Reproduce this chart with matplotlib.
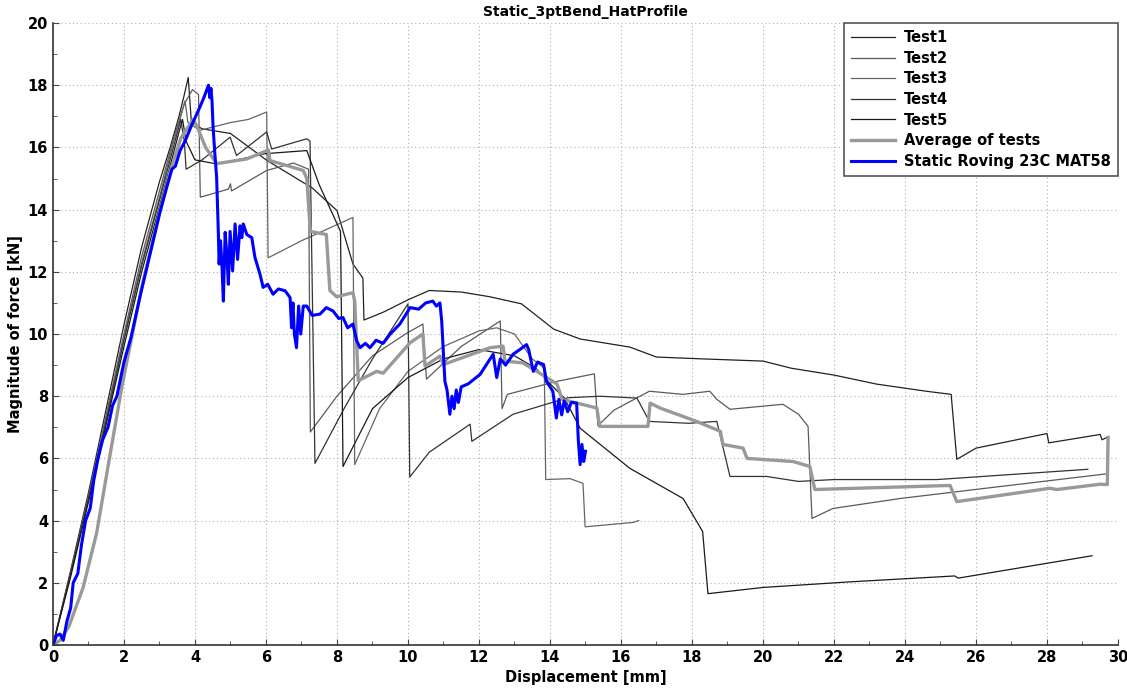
import numpy as np
import matplotlib
matplotlib.use('Agg')
import matplotlib.pyplot as plt
from matplotlib.ticker import MultipleLocator

# ---- data ----
test1_x = [0, 0.5, 1.0, 1.5, 2.0, 2.5, 3.0, 3.3, 3.55, 3.7, 3.81, 3.9, 4.2, 5.0, 6.03, 7.3, 8.0,
           8.45, 8.73, 8.76, 9.3, 10.0, 10.6, 11.5, 12.3, 13.2, 14.1, 14.85, 16.25, 17.0, 18.3,
           20.0, 20.8, 22.0, 23.2, 24.6, 25.3, 25.46, 26.0, 28.0, 28.05, 29.5, 29.55, 29.7]
test1_y = [0, 2.4, 4.9, 7.6, 10.3, 12.8, 14.9, 16.0, 17.0, 17.7, 18.25, 16.8, 16.6, 16.45, 15.58,
           14.7, 13.97, 12.25, 11.8, 10.45, 10.7, 11.1, 11.4, 11.35, 11.2, 10.97, 10.16, 9.84,
           9.58, 9.26, 9.2, 9.13, 8.9, 8.68, 8.39, 8.16, 8.06, 5.97, 6.33, 6.8, 6.5, 6.77, 6.6, 6.68]

test2_x = [0, 0.5, 1.0, 1.5, 2.0, 2.5, 3.0, 3.4, 3.7, 3.93, 4.1, 4.15, 4.94, 5.0, 5.03, 6.02,
           6.77, 7.2, 7.25, 8.0, 9.0, 9.97, 10.42, 10.52, 11.5, 12.6, 12.65, 12.8, 14.2, 15.25,
           15.35, 15.8, 16.8, 17.75, 18.5, 18.7, 19.07, 20.56, 21.0, 21.27, 21.38, 21.97, 23.86,
           26.2, 29.65]
test2_y = [0, 2.35, 4.8, 7.4, 10.0, 12.5, 14.6, 16.3, 17.4, 17.86, 17.7, 14.4, 14.66, 14.83,
           14.6, 15.26, 15.5, 15.3, 6.85, 8.0, 9.3, 10.03, 10.32, 8.55, 9.6, 10.42, 7.6, 8.06,
           8.48, 8.72, 7.05, 7.55, 8.16, 8.06, 8.16, 7.9, 7.58, 7.74, 7.42, 7.03, 4.07, 4.39,
           4.71, 5.03, 5.5]

test3_x = [0, 0.5, 1.0, 1.5, 2.0, 2.5, 3.0, 3.4, 3.6, 3.72, 3.8, 4.14, 5.0, 5.5, 6.02, 6.06,
           7.0, 8.45, 8.5, 9.2, 10.0, 11.0, 12.0, 12.5, 13.0, 13.5, 13.84, 13.88, 14.56, 14.93,
           14.99, 16.34, 16.5]
test3_y = [0, 2.3, 4.75, 7.3, 9.9, 12.3, 14.4, 16.2, 17.0, 17.5, 16.8, 16.55, 16.8, 16.9,
           17.14, 12.45, 13.0, 13.75, 5.8, 7.6, 8.8, 9.6, 10.1, 10.2, 10.0, 9.2, 8.9, 5.32,
           5.35, 5.2, 3.8, 3.94, 4.0]

test4_x = [0, 0.5, 1.0, 1.5, 2.0, 2.5, 3.0, 3.3, 3.6, 3.7, 3.75, 4.2, 4.99, 5.17, 6.02, 6.16,
           7.15, 7.24, 7.38, 8.2, 9.0, 10.0, 10.05, 10.6, 11.75, 11.8, 12.96, 14.5, 15.4,
           16.45, 16.8, 17.9, 18.7, 19.07, 20.1, 21.0, 22.0, 24.9, 29.15]
test4_y = [0, 2.3, 4.7, 7.2, 9.8, 12.2, 14.3, 15.6, 16.9, 16.2, 15.3, 15.6, 16.33, 15.74,
           16.5, 15.95, 16.28, 16.2, 5.84, 7.6, 9.2, 10.97, 5.4, 6.2, 7.1, 6.55, 7.42, 7.95,
           8.0, 7.94, 7.19, 7.13, 7.19, 5.42, 5.42, 5.26, 5.32, 5.32, 5.65]

test5_x = [0, 0.5, 1.0, 1.5, 2.0, 2.5, 3.0, 3.3, 3.55, 3.65, 3.75, 4.0, 4.61, 5.55, 5.97,
           7.15, 7.5, 8.1, 8.17, 9.0, 10.0, 11.0, 12.0, 13.0, 13.6, 14.0, 14.4, 14.85, 16.25,
           17.75, 18.3, 18.45, 20.0, 22.45, 25.4, 25.5, 29.27]
test5_y = [0, 2.2, 4.6, 7.1, 9.6, 12.0, 14.1, 15.4, 16.5, 16.9, 16.2, 15.6, 15.47, 15.69,
           15.8, 15.9, 14.8, 13.3, 5.74, 7.6, 8.6, 9.2, 9.5, 9.3, 8.9, 8.4, 7.95, 6.97, 5.68,
           4.71, 3.65, 1.65, 1.85, 2.03, 2.22, 2.15, 2.87]

avg_x = [0, 0.2, 0.45, 0.85, 1.23, 1.56, 1.94, 2.5, 3.0, 3.3, 3.6, 3.95, 4.05, 4.3, 4.61,
         5.46, 6.07, 6.11, 7.05, 7.15, 7.25, 7.7, 7.8, 7.99, 8.45, 8.5, 8.6, 9.12, 9.3, 10.06,
         10.42, 10.48, 10.9, 11.0, 12.31, 12.68, 12.73, 13.24, 13.63, 14.2, 14.34, 15.32,
         15.4, 16.76, 16.82, 17.1, 18.13, 18.8, 18.87, 19.44, 19.55, 20.85, 21.32, 21.46,
         25.27, 25.46, 28.08, 28.28, 29.5, 29.7, 29.72]
avg_y = [0, 0.15, 0.6, 1.85, 3.6, 5.8, 8.3, 11.5, 13.9, 15.2, 16.3, 16.9, 16.7, 16.0, 15.48,
         15.63, 15.92, 15.58, 15.26, 15.0, 13.3, 13.2, 11.4, 11.2, 11.33, 11.06, 8.5, 8.8,
         8.74, 9.72, 10.0, 8.97, 9.29, 9.02, 9.56, 9.61, 9.13, 9.07, 8.8, 8.39, 7.9, 7.62,
         7.03, 7.03, 7.78, 7.62, 7.19, 6.87, 6.45, 6.33, 6.0, 5.9, 5.74, 5.0, 5.13, 4.61,
         5.04, 5.0, 5.17, 5.16, 6.68]

sim_x = [0, 0.1, 0.2, 0.29, 0.39, 0.5, 0.57, 0.7, 0.8, 0.92, 1.05, 1.15, 1.27, 1.4, 1.55,
         1.68, 1.8, 2.0, 2.2, 2.45, 2.7, 3.01, 3.2, 3.35, 3.45, 3.58, 3.72, 3.9, 4.1, 4.25,
         4.38, 4.42, 4.45, 4.48, 4.51, 4.56, 4.61, 4.66, 4.68, 4.72, 4.76, 4.8, 4.85, 4.9,
         4.94, 4.99, 5.06, 5.13, 5.2, 5.27, 5.32, 5.36, 5.46, 5.6, 5.69, 5.83, 5.92, 6.05,
         6.2, 6.35, 6.54, 6.68, 6.72, 6.76, 6.8, 6.86, 6.92, 6.98, 7.05, 7.15, 7.3, 7.52,
         7.7, 7.89, 8.05, 8.17, 8.3, 8.45, 8.55, 8.65, 8.8, 8.93, 9.1, 9.3, 9.5, 9.77, 10.06,
         10.3, 10.5, 10.7, 10.8, 10.9, 10.95, 11.0, 11.04, 11.1, 11.18, 11.24, 11.3, 11.36,
         11.42, 11.5, 11.7, 12.03, 12.2, 12.4, 12.5, 12.6, 12.75, 12.96, 13.15, 13.34, 13.4,
         13.53, 13.65, 13.82, 13.9, 14.08, 14.18, 14.25, 14.33, 14.4, 14.5, 14.6, 14.75,
         14.8, 14.85, 14.9, 14.95, 15.0]
sim_y = [0, 0.3, 0.35, 0.15, 0.75, 1.2, 2.0, 2.3, 3.2, 4.0, 4.4, 5.3, 6.0, 6.6, 7.0, 7.7,
         8.0, 9.1, 9.9, 11.2, 12.4, 13.9, 14.7, 15.3, 15.4, 15.9, 16.2, 16.7, 17.2, 17.6,
         18.0, 17.6, 17.9, 17.5, 16.65, 15.8, 15.04, 13.2, 12.25, 13.0, 12.2, 11.06, 13.27,
         12.5, 11.6, 13.3, 12.03, 13.54, 12.4, 13.48, 13.1, 13.54, 13.2, 13.1, 12.46, 11.93,
         11.5, 11.6, 11.28, 11.45, 11.39, 11.17, 10.2, 11.0, 10.0, 9.56, 10.9, 10.0, 10.9,
         10.9, 10.6, 10.64, 10.85, 10.74, 10.5, 10.53, 10.2, 10.32, 9.8, 9.56, 9.7, 9.56,
         9.8, 9.7, 10.0, 10.32, 10.85, 10.8, 11.0, 11.06, 10.9, 11.0, 10.42, 9.35, 8.48, 8.2,
         7.42, 8.0, 7.6, 8.2, 7.8, 8.3, 8.4, 8.7, 9.0, 9.35, 8.6, 9.2, 9.0, 9.35, 9.5, 9.66,
         9.5, 8.8, 9.1, 9.02, 8.48, 8.16, 7.3, 7.9, 7.4, 7.85, 7.5, 7.8, 7.78, 6.55, 5.8,
         6.45, 5.9, 6.23]

plt.rcParams['font.family'] = 'DejaVu Sans'
plt.rcParams['font.weight'] = 'bold'

fig = plt.figure(figsize=(11.27, 6.91), dpi=100)
ax = fig.add_axes([0.047, 0.0666, 0.945, 0.900])

ax.plot(test1_x, test1_y, color='#222222', lw=0.9, label='Test1')
ax.plot(test2_x, test2_y, color='#5a5a5a', lw=0.9, label='Test2')
ax.plot(test3_x, test3_y, color='#666666', lw=0.9, label='Test3')
ax.plot(test4_x, test4_y, color='#333333', lw=0.9, label='Test4')
ax.plot(test5_x, test5_y, color='#1a1a1a', lw=0.9, label='Test5')
ax.plot(avg_x, avg_y, color='#999999', lw=2.4, label='Average of tests')
ax.plot(sim_x, sim_y, color='#0000ff', lw=2.2, label='Static Roving 23C MAT58')

ax.set_xlim(0, 30)
ax.set_ylim(0, 20)
ax.xaxis.set_major_locator(MultipleLocator(2))
ax.xaxis.set_minor_locator(MultipleLocator(1))
ax.yaxis.set_major_locator(MultipleLocator(2))
ax.yaxis.set_minor_locator(MultipleLocator(1))
ax.tick_params(which='both', direction='in', colors='#444444', labelcolor='black',
               labelsize=10.5)
ax.tick_params(which='major', length=4)
ax.tick_params(which='minor', length=3)
for lbl in ax.get_xticklabels() + ax.get_yticklabels():
    lbl.set_fontweight('bold')

ax.grid(True, which='major', color='#b0b0b0', linestyle=(0, (1, 2.5)), lw=0.8)
for s in ['top', 'right']:
    ax.spines[s].set_visible(False)
for s in ['left', 'bottom']:
    ax.spines[s].set_color('#333333')
    ax.spines[s].set_linewidth(1.2)

ax.set_title('Static_3ptBend_HatProfile', fontsize=10, fontweight='bold', pad=5)
ax.set_xlabel('Displacement [mm]', fontsize=10.5, fontweight='bold', labelpad=4)
ax.set_ylabel('Magnitude of force [kN]', fontsize=10.5, fontweight='bold', labelpad=3)

leg = ax.legend(loc='upper right', bbox_to_anchor=(1.0, 1.0), borderaxespad=0,
                fancybox=False, framealpha=1, edgecolor='#555555',
                handlelength=3.0, labelspacing=0.38, borderpad=0.5, handletextpad=0.6,
                prop={'weight': 'bold', 'size': 10.5})
leg.get_frame().set_linewidth(1.2)

fig.savefig('out.png', dpi=100)
